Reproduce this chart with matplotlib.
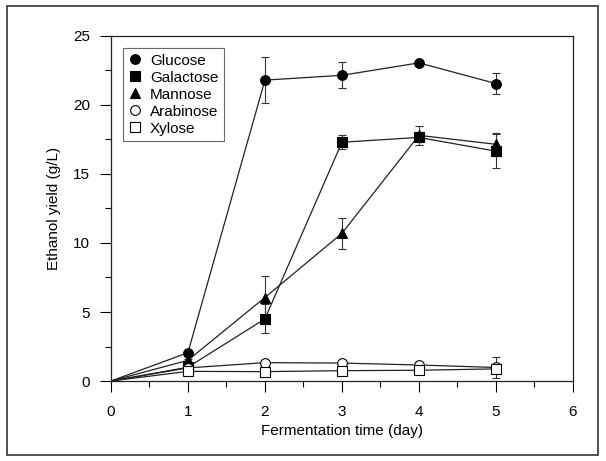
import numpy as np
import matplotlib.pyplot as plt
from matplotlib.patches import Rectangle

plt.rcParams['font.family'] = ['Liberation Sans', 'DejaVu Sans']

# fermentation time (day) and ethanol yield (g/L)
days = [0, 1, 2, 3, 4, 5]
glucose = [0, 2.05, 21.8, 22.15, 23.05, 21.55]
glucose_err = [0, 0.1, 1.65, 0.93, 0.1, 0.78]
galactose = [0, 1.0, 4.5, 17.3, 17.65, 16.65]
galactose_err = [0, 0.1, 1.05, 0.5, 0.2, 1.25]
mannose = [0, 1.5, 6.05, 10.7, 17.8, 17.15]
mannose_err = [0, 0.1, 1.57, 1.1, 0.68, 0.83]
arabinose = [0, 0.95, 1.33, 1.3, 1.16, 0.98]
arabinose_err = [0, 0.1, 0.15, 0.2, 0.2, 0.75]
xylose = [0, 0.7, 0.68, 0.75, 0.78, 0.88]
xylose_err = [0, 0.15, 0.3, 0.3, 0.3, 0.25]

series = [
    ("Glucose", glucose, glucose_err, "o", "black"),
    ("Galactose", galactose, galactose_err, "s", "black"),
    ("Mannose", mannose, mannose_err, "^", "black"),
    ("Arabinose", arabinose, arabinose_err, "o", "white"),
    ("Xylose", xylose, xylose_err, "s", "white"),
]

fig = plt.figure(figsize=(6.06, 4.61), dpi=100)
ax = fig.add_axes([0.183, 0.1735, 0.7625, 0.7485])

# outer frame around the whole figure
fig.patches.append(Rectangle((7 / 606, 6 / 461), 591 / 606, 449 / 461,
                             transform=fig.transFigure, fill=False,
                             edgecolor="#333333", linewidth=1.2))

for name, y, err, m, fc in series:
    ax.errorbar(days[1:], y[1:], yerr=err[1:], fmt="none", ecolor="#333333",
                elinewidth=0.8, capsize=3, capthick=0.8, zorder=2)
    ax.plot(days, y, color="#222222", linewidth=0.9, zorder=3)
    ax.plot(days[1:], y[1:], linestyle="none", marker=m, markersize=7,
            markerfacecolor=fc, markeredgecolor="black", markeredgewidth=0.8,
            label=name, zorder=4)

ax.set_xlim(0, 6)
ax.set_ylim(0, 25)
ax.set_xticks(range(0, 7))
ax.set_xticks(np.arange(0.5, 6, 1), minor=True)
ax.set_yticks(range(0, 26, 5))
ax.set_yticks(np.arange(2.5, 25, 5), minor=True)
ax.tick_params(axis="both", which="major", direction="out", length=8,
               width=0.8, labelsize=11, top=False, right=False)
ax.tick_params(axis="both", which="minor", direction="out", length=4.5,
               width=0.8, top=False, right=False)
ax.tick_params(axis="x", which="major", pad=9)
ax.tick_params(axis="y", which="major", pad=7)
for s in ax.spines.values():
    s.set_linewidth(0.9)
    s.set_color("#222222")

ax.set_xlabel("Fermentation time (day)", fontsize=11, labelpad=4)
ax.set_ylabel("Ethanol yield (g/L)", fontsize=11, labelpad=9)

leg = ax.legend(loc="upper left", fontsize=11, frameon=True, fancybox=False,
                edgecolor="#444444", handlelength=0.8, handletextpad=0.6,
                borderpad=0.35, labelspacing=0.2, borderaxespad=0.8)
leg.get_frame().set_linewidth(0.8)

fig.savefig("out.png", dpi=100)
